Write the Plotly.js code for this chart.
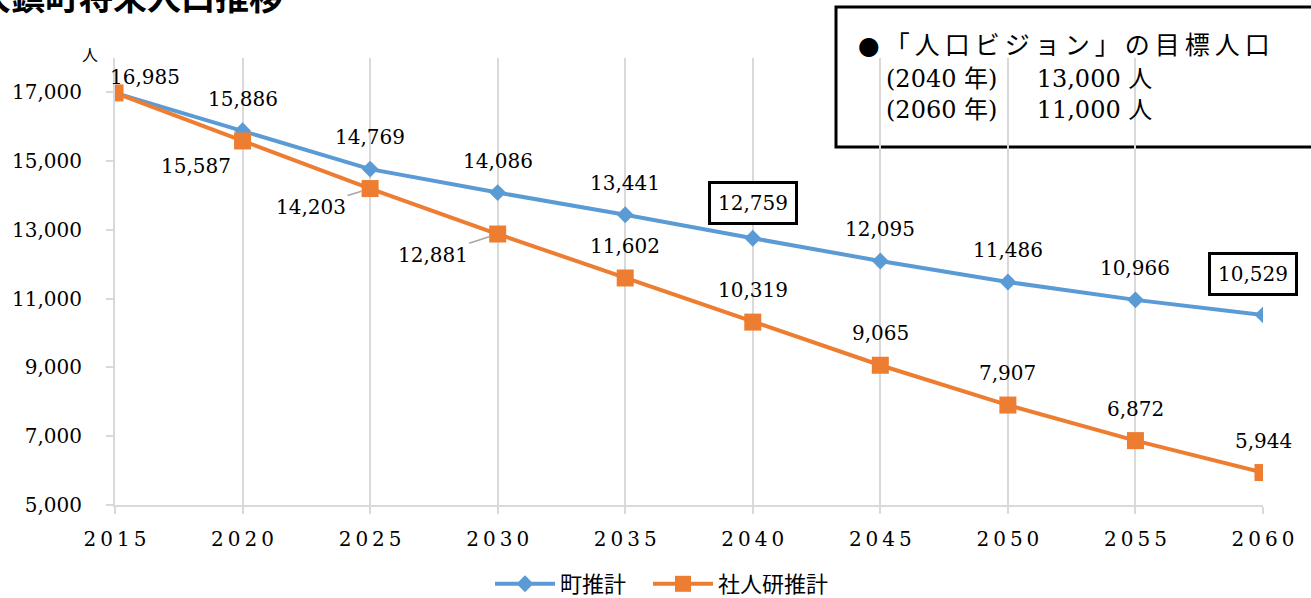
<!DOCTYPE html>
<html>
<head>
<meta charset="utf-8">
<script src="https://cdn.plot.ly/plotly-3.0.1.min.js"></script>
<style>html,body{margin:0;padding:0;background:#fff;}#chart{width:1311px;height:598px;}</style>
</head>
<body>
<div id="chart"></div>
<script>
// ---- data ----
const years = [2015, 2020, 2025, 2030, 2035, 2040, 2045, 2050, 2055, 2060];
const xTickText = ['2\u20090\u20091\u20095', '2\u20090\u20092\u20090', '2\u20090\u20092\u20095', '2\u20090\u20093\u20090', '2\u20090\u20093\u20095',
                   '2\u20090\u20094\u20090', '2\u20090\u20094\u20095', '2\u20090\u20095\u20090', '2\u20090\u20095\u20095', '2\u20090\u20096\u20090'];
const townName = '町推計';
const townValues = [16985, 15886, 14769, 14086, 13441, 12759, 12095, 11486, 10966, 10529];
const ipssName = '社人研推計';
const ipssValues = [16985, 15587, 14203, 12881, 11602, 10319, 9065, 7907, 6872, 5944];
const yTickVals = [5000, 7000, 9000, 11000, 13000, 15000, 17000];
const titleText = '大鎮町将来人口推移';
const yUnit = '人';
const visionLines = ['●「人口ビジョン」の目標人口', '(2040 年)　  13,000 人', '(2060 年)　  11,000 人'];
const boxedTown = [2040, 2060];

const fmt = v => v.toLocaleString('en-US');
const serif = "'DejaVu Serif', 'Noto Sans CJK JP', serif";
const cjk = "'DejaVu Serif', 'Noto Sans CJK JP', sans-serif";

const traces = [
  {x: years, y: townValues, name: townName, type: 'scatter', mode: 'lines+markers', legend: 'legend',
   line: {color: '#5B9BD5', width: 4}, marker: {symbol: 'diamond', size: 13, color: '#5B9BD5'}},
  {x: years, y: ipssValues, name: ipssName, type: 'scatter', mode: 'lines+markers', legend: 'legend2',
   line: {color: '#ED7D31', width: 4}, marker: {symbol: 'square', size: 17, color: '#ED7D31'}}
];

const annotations = [];
years.forEach((yr, i) => {
  const boxed = boxedTown.includes(yr);
  const a = {x: yr, y: townValues[i], xref: 'x', yref: 'y', text: fmt(townValues[i]), showarrow: false,
    font: {family: serif, size: 20, color: '#000'}, yshift: 32};
  if (i === 0) { a.xshift = 30; a.yshift = 16; }
  if (boxed) {
    a.bordercolor = '#000'; a.borderwidth = 3; a.borderpad = 7; a.bgcolor = '#fff';
    a.yshift = yr === 2060 ? 41 : 35;
    if (yr === 2060) a.xshift = -10;
  }
  annotations.push(a);
});
years.forEach((yr, i) => {
  if (i === 0) return;
  const a = {x: yr, y: ipssValues[i], xref: 'x', yref: 'y', text: fmt(ipssValues[i]), showarrow: false,
    font: {family: serif, size: 20, color: '#000'}, yshift: 32};
  if (i === 1) { a.xshift = -47; a.yshift = -25; }
  if (i === 2 || i === 3) {
    a.showarrow = true; a.arrowhead = 0; a.arrowwidth = 1.5; a.arrowcolor = '#a6a6a6';
    a.ax = i === 2 ? -59 : -65; a.ay = i === 2 ? 18 : 21; a.standoff = 9; a.yshift = 0;
  }
  annotations.push(a);
});
annotations.push({xref: 'paper', yref: 'paper', x: -25 / 1148, y: (505 - 54) / 447, xanchor: 'center', yanchor: 'middle',
  text: yUnit, showarrow: false, font: {family: "'Noto Sans CJK JP', sans-serif", size: 16, color: '#000'}});
annotations.push({xref: 'paper', yref: 'paper', x: -140 / 1148, y: (505 + 4) / 447, xanchor: 'left', yanchor: 'middle',
  text: '<b>' + titleText + '</b>', showarrow: false,
  font: {family: "'Noto Sans CJK JP', sans-serif", size: 34, color: '#000'}});
annotations.push({xref: 'paper', yref: 'paper', x: (856 - 115) / 1148, y: (505 - 45) / 447, xanchor: 'left', yanchor: 'middle',
  text: '<span style="letter-spacing:5px">' + visionLines[0] + '</span>', showarrow: false, font: {family: cjk, size: 25, color: '#000'}});
annotations.push({xref: 'paper', yref: 'paper', x: (884 - 115) / 1148, y: (505 - 79) / 447, xanchor: 'left', yanchor: 'middle',
  text: visionLines[1], showarrow: false, font: {family: cjk, size: 24, color: '#000'}});
annotations.push({xref: 'paper', yref: 'paper', x: (884 - 115) / 1148, y: (505 - 110) / 447, xanchor: 'left', yanchor: 'middle',
  text: visionLines[2], showarrow: false, font: {family: cjk, size: 24, color: '#000'}});

const legendFont = {family: "'Noto Sans CJK JP', sans-serif", size: 22, color: '#000'};
const layout = {
  width: 1311, height: 598,
  margin: {l: 115, r: 48, t: 58, b: 93, autoexpand: false},
  paper_bgcolor: '#fff', plot_bgcolor: '#fff',
  showlegend: true,
  legend: {orientation: 'h', x: (490 - 115) / 1148, xanchor: 'left', y: (505 - 584) / 447, yanchor: 'middle',
    itemwidth: 60, font: legendFont, bgcolor: 'rgba(0,0,0,0)'},
  legend2: {orientation: 'h', x: (648 - 115) / 1148, xanchor: 'left', y: (505 - 584) / 447, yanchor: 'middle',
    itemwidth: 60, font: legendFont, bgcolor: 'rgba(0,0,0,0)'},
  xaxis: {range: [2015, 2060], tickvals: years, ticktext: xTickText, showgrid: true, gridcolor: '#d9d9d9', gridwidth: 2,
    showline: true, linecolor: '#d9d9d9', linewidth: 2, ticks: 'outside', ticklen: 7, tickcolor: '#d9d9d9', tickwidth: 2,
    ticklabelstandoff: 8, tickfont: {family: serif, size: 20, color: '#000'}, zeroline: false, fixedrange: true},
  yaxis: {range: [5000, 18000], tickvals: yTickVals, ticktext: yTickVals.map(fmt), showgrid: false,
    showline: true, linecolor: '#d9d9d9', linewidth: 2, ticks: 'outside', ticklen: 7, tickcolor: '#d9d9d9', tickwidth: 2,
    ticklabelstandoff: 20, tickfont: {family: serif, size: 20, color: '#000'}, zeroline: false, fixedrange: true},
  shapes: [{type: 'rect', xref: 'paper', yref: 'paper', x0: (836 - 115) / 1148, x1: (1330 - 115) / 1148,
    y0: (505 - 147) / 447, y1: (505 - 7) / 447, line: {color: '#000', width: 3}, fillcolor: 'rgba(255,255,255,1)', layer: 'below'}],
  annotations: annotations
};

Plotly.newPlot('chart', traces, layout, {displayModeBar: false, staticPlot: true});
</script>
</body>
</html>
